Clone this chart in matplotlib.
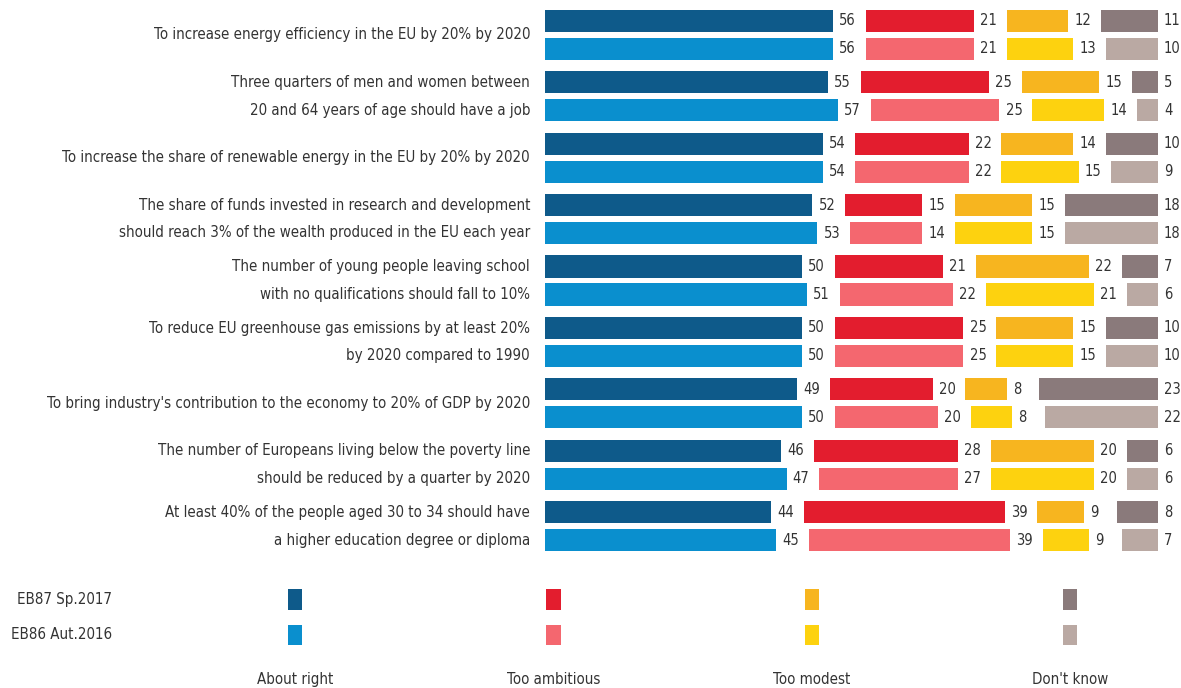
"""
Europe 2020 targets: about right / too ambitious / too modest
"""
import numpy as np
import matplotlib
matplotlib.use("Agg")
import matplotlib.pyplot as plt
from matplotlib import font_manager

labels = [
    "To increase energy efficiency in the EU by 20% by 2020",
    "Three quarters of men and women between\n20 and 64 years of age should have a job",
    "To increase the share of renewable energy in the EU by 20% by 2020",
    "The share of funds invested in research and development\nshould reach 3% of the wealth produced in the EU each year",
    "The number of young people leaving school\nwith no qualifications should fall to 10%",
    "To reduce EU greenhouse gas emissions by at least 20%\nby 2020 compared to 1990",
    "To bring industry's contribution to the economy to 20% of GDP by 2020",
    "The number of Europeans living below the poverty line\nshould be reduced by a quarter by 2020",
    "At least 40% of the people aged 30 to 34 should have\na higher education degree or diploma",
]
categories = ["About right", "Too ambitious", "Too modest", "Don't know"]
waves = ["EB87 Sp.2017", "EB86 Aut.2016"]

# EB87 Sp.2017
eb87_right = [56, 55, 54, 52, 50, 50, 49, 46, 44]
eb87_ambitious = [21, 25, 22, 15, 21, 25, 20, 28, 39]
eb87_modest = [12, 15, 14, 15, 22, 15, 8, 20, 9]
eb87_dk = [11, 5, 10, 18, 7, 10, 23, 6, 8]
# EB86 Aut.2016
eb86_right = [56, 57, 54, 53, 51, 50, 50, 47, 45]
eb86_ambitious = [21, 25, 22, 14, 22, 25, 20, 27, 39]
eb86_modest = [13, 14, 15, 15, 21, 15, 8, 20, 9]
eb86_dk = [10, 4, 9, 18, 6, 10, 22, 6, 7]

colors87 = ["#0e5a8a", "#e31d2e", "#f7b51f", "#8a7a7b"]
colors86 = ["#0a8fce", "#f4676f", "#fdd20f", "#baa9a3"]
txt = "#333333"

# look for a condensed face, otherwise shrink a plain one
cond = font_manager.findfont(font_manager.FontProperties(family="DejaVu Sans", stretch="condensed"))
if "Condensed" in cond:
    plt.rcParams["font.family"] = ["DejaVu Sans"]
    plt.rcParams["font.stretch"] = "condensed"
    fs, fsn = 10.85, 10.5
else:
    plt.rcParams["font.family"] = ["Liberation Sans", "DejaVu Sans"]
    fs, fsn = 10.85, 10.5

W, H = 1181, 688
fig = plt.figure(figsize=(W / 100, H / 100), dpi=100)

gap = 6.4  # gap between segments, in % units
ax = fig.add_axes([545 / W, 1 - 557 / H, 617 / W, 553 / H])
ax.set_xlim(0, 617 / 5.14)
ax.set_ylim(8.5, -0.5)
ax.axis("off")

y = np.arange(len(labels))
off, h = 0.228, 0.36
for series, cols, dy in [((eb87_right, eb87_ambitious, eb87_modest, eb87_dk), colors87, -off),
                         ((eb86_right, eb86_ambitious, eb86_modest, eb86_dk), colors86, off)]:
    left = np.zeros(len(labels))
    for k, vals in enumerate(series):
        vals = np.array(vals, dtype=float)
        ax.barh(y + dy, vals, left=left, height=h, color=cols[k])
        for yi, l, v in zip(y + dy, left, vals):
            ax.text(l + v + 1.2, yi, f"{int(v)}", va="center", ha="left",
                    fontsize=fsn, color=txt, clip_on=False)
        left = left + vals + gap

for yi, lab in zip(y, labels):
    ax.text(-2.9, yi, lab, ha="right", va="center", fontsize=fs, color=txt,
            linespacing=2.07, clip_on=False)

# legend block
lg = fig.add_axes([166 / W, 0, (W - 166) / W, 108 / H])
lg.set_xlim(0, (W - 166) / 258.3)
lg.set_ylim(2.5, -0.55)
lg.axis("off")
xs = np.arange(4) + 0.5
lg.bar(xs, [0.57] * 4, bottom=-0.285, width=0.056, color=colors87)
lg.bar(xs, [0.57] * 4, bottom=1 - 0.285, width=0.056, color=colors86)
for xi, c in zip(xs, categories):
    lg.text(xi, 2.26, c, ha="center", va="center", fontsize=fs, color=txt)
for r, wv in enumerate(waves):
    lg.text(-0.208, r, wv, ha="right", va="center", fontsize=fs, color=txt, clip_on=False)

fig.savefig("out.png", dpi=100, facecolor="white")
